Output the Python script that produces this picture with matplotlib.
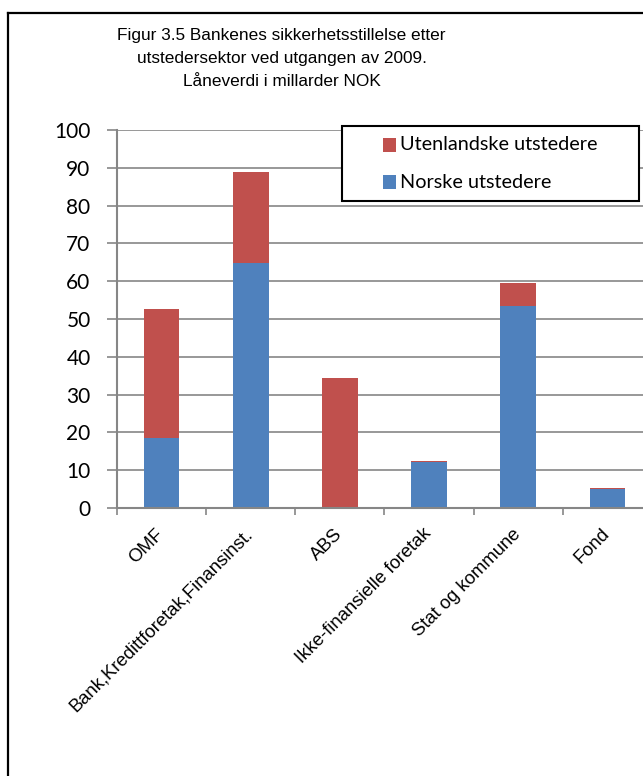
import matplotlib.pyplot as plt
from matplotlib.lines import Line2D
from matplotlib.patches import Rectangle

# data (milliarder NOK)
categories = ["OMF", "Bank,Kredittforetak,Finansinst.", "ABS",
              "Ikke-finansielle foretak", "Stat og kommune", "Fond"]
norske = [18.6, 64.8, 0.0, 12.3, 53.5, 5.1]
utenlandske = [34.1, 24.1, 34.4, 0.2, 6.1, 0.3]
series_names = ["Utenlandske utstedere", "Norske utstedere"]

title = ("Figur 3.5 Bankenes sikkerhetsstillelse etter\n"
         "utstedersektor ved utgangen av 2009.\n"
         "Låneverdi i millarder NOK")

red = "#C0504D"
blue = "#4F81BD"
grid_col = "#868686"

W, H = 643, 776
fig = plt.figure(figsize=(W / 100, H / 100), dpi=100)

# outer chart frame (only top and left edge are visible in the crop)
fig.add_artist(Line2D([8 / W, 8 / W], [0, 1 - 13 / H], color="black", lw=1.6,
                      transform=fig.transFigure))
fig.add_artist(Line2D([8 / W, 1], [1 - 13 / H, 1 - 13 / H], color="black", lw=1.6,
                      transform=fig.transFigure))

ax = fig.add_axes([117 / W, (H - 508) / H, (652 - 117) / W, (508 - 130) / H])

x = range(len(categories))
ax.bar(x, norske, width=0.4, color=blue)
ax.bar(x, utenlandske, width=0.4, bottom=norske, color=red)

ax.set_xlim(-0.5, len(categories) - 0.5)
ax.set_ylim(0, 100)
ax.set_yticks(range(0, 101, 10))
ax.yaxis.grid(True, color=grid_col, lw=1.2)
ax.set_axisbelow(True)

for side in ["top", "right"]:
    ax.spines[side].set_visible(False)
for side in ["left", "bottom"]:
    ax.spines[side].set_color(grid_col)
    ax.spines[side].set_linewidth(1.5)

ax.tick_params(axis="y", length=7, width=1.2, color=grid_col, labelsize=15, pad=12)
for lab in ax.get_yticklabels():
    lab.set_family("Lato")

# category ticks sit between the bars
ax.set_xticks([i - 0.5 for i in x])
ax.set_xticklabels([])
ax.tick_params(axis="x", length=5, width=1.2, color=grid_col)
for i, name in enumerate(categories):
    ax.annotate(name, xy=(i, 0), xycoords="data", xytext=(-4.5, -12.5), textcoords="offset points",
                rotation=45, ha="right", va="top", rotation_mode="anchor",
                fontsize=13.3, family="Liberation Sans")

fig.text(0.438, 1 - 58.5 / H, title, ha="center", va="center", fontsize=12.4,
         family="Liberation Sans", linespacing=1.7)

# legend box drawn by hand, Excel style with wide left margin
fig.add_artist(Rectangle((342 / W, 1 - 201 / H), (639 - 342) / W, 75 / H,
                         transform=fig.transFigure, facecolor="white",
                         edgecolor="black", lw=1.5, zorder=5))
for k, (name, col) in enumerate(zip(series_names, [red, blue])):
    yc = 145 + 37 * k
    fig.add_artist(Rectangle((383 / W, 1 - (yc + 6.5) / H), 13 / W, 13 / H,
                             transform=fig.transFigure, facecolor=col,
                             edgecolor="none", zorder=6))
    fig.text(400 / W, 1 - yc / H, name, ha="left", va="center", fontsize=14.3,
             family="Lato", zorder=6)

fig.savefig("out.png", dpi=100)
